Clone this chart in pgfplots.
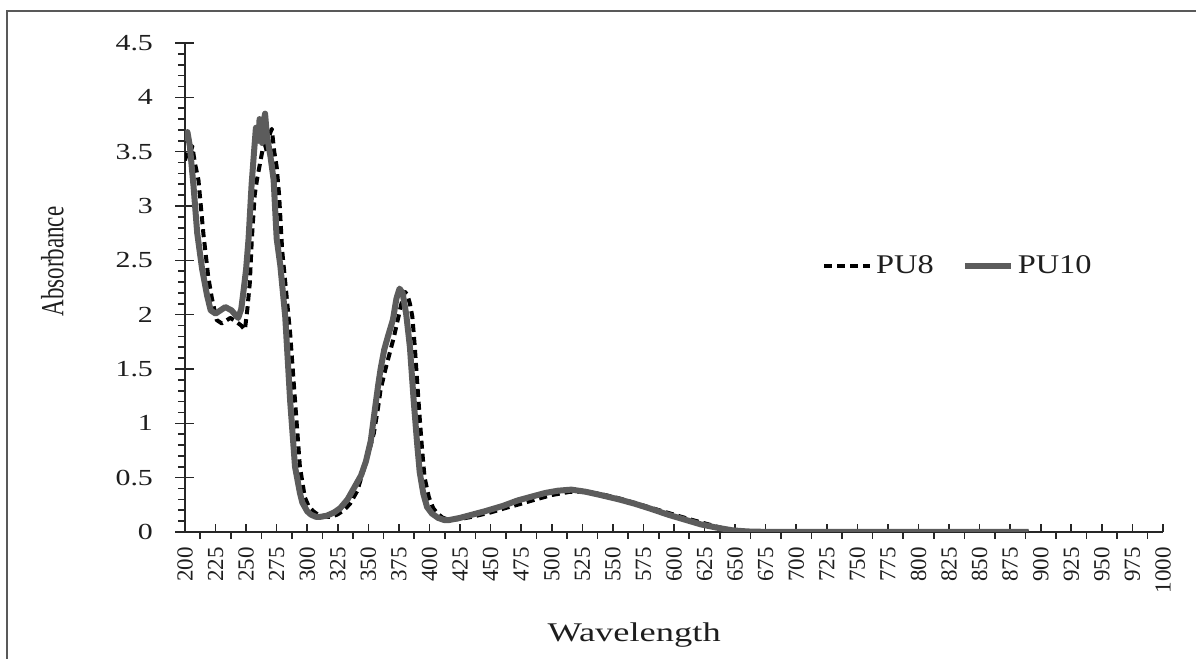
\documentclass[border=0pt]{standalone}
\usepackage{pgfplots}
\pgfplotsset{compat=1.18}
\usepackage{fontspec}
\setmainfont{Liberation Serif}
\usepackage{graphicx}

\definecolor{pugray}{RGB}{92,92,92}
\definecolor{txt}{RGB}{30,30,30}

% PU8 (dashed) and PU10 (solid)
\pgfplotstableread{
x y
200 3.42
202 3.50
204 3.48
206 3.55
208 3.40
211 3.24
215 2.75
219 2.35
222 2.15
226 1.95
230 1.92
233 1.94
237 1.97
240 1.95
242.5 1.93
246 1.90
249 1.86
251 2.05
253 2.29
254.7 2.70
257 3.10
259 3.25
261.5 3.40
264 3.55
265.5 3.56
267 3.50
269 3.65
271 3.71
273 3.50
275 3.36
277 3.10
279.5 2.59
282 2.30
286 1.83
290 1.21
294 0.60
298 0.32
301 0.24
305 0.19
310 0.15
314 0.14
319 0.14
324.5 0.16
330 0.20
335 0.26
341 0.38
346 0.57
350 0.72
354.5 0.91
358 1.15
360 1.31
364 1.50
368 1.67
371 1.80
374 1.95
377 2.10
380 2.21
382 2.18
384 2.10
386 1.98
388 1.70
390 1.37
392 1.05
394 0.75
396 0.50
399.5 0.32
403 0.22
406.5 0.17
411 0.13
417 0.11
425 0.12
435 0.14
450 0.18
462 0.22
475 0.26
487 0.30
500 0.34
515 0.37
528 0.37
540 0.35
555 0.31
570 0.26
585 0.21
600 0.16
612 0.12
625 0.08
638 0.04
650 0.015
665 0.005
680 0
890 0
}\puEight

\pgfplotstableread{
x y
200 3.60
202 3.68
204 3.55
207 3.18
210 2.75
214 2.42
218 2.18
221 2.04
225 2.01
229 2.04
233 2.07
238 2.04
243.5 1.97
246 2.05
248 2.23
250 2.42
252 2.70
254.5 3.20
256.5 3.50
258 3.72
260 3.60
261 3.80
263 3.58
264.5 3.78
265.5 3.85
267 3.65
270 3.45
272.5 3.24
275 2.70
278 2.45
282 1.98
286 1.21
290 0.60
294 0.36
296 0.27
300 0.19
303 0.16
307 0.14
311 0.14
316 0.15
322 0.18
327 0.22
333 0.30
338 0.40
344 0.52
348 0.65
352 0.84
355 1.10
358 1.35
360 1.50
363 1.68
366 1.80
370 1.95
373 2.15
375.5 2.24
378 2.20
381 2.00
384 1.70
387 1.22
390 0.80
392 0.55
395 0.35
398 0.23
402 0.17
407 0.13
412 0.11
416 0.11
425 0.13
435 0.16
445 0.19
460 0.24
472 0.29
485 0.33
495 0.36
505 0.38
516 0.39
528 0.37
540 0.34
555 0.30
568 0.26
582 0.21
595 0.16
610 0.11
622 0.07
635 0.04
648 0.015
660 0.005
680 0
890 0
}\puTen

\begin{document}
\begin{tikzpicture}
\useasboundingbox (-92.5pt,-63.5pt) rectangle (505.5pt,266pt);
\draw[line width=1pt, gray!70!black] (-89pt,-80pt) rectangle (520pt,260.5pt);
\begin{axis}[
  scale only axis,
  width=489pt, height=244.5pt,
  xmin=200, xmax=1000, ymin=0, ymax=4.5,
  axis x line=bottom, axis y line=left,
  axis line style={-, line width=1pt, black!85},
  every tick/.style={black!85, line width=0.8pt},
  xtick={200,225,...,1000},
  minor xtick={212.5,237.5,...,987.5},
  ytick={0,0.5,...,4.5},
  minor ytick={0.1,0.2,0.3,0.4,0.6,0.7,0.8,0.9,1.1,1.2,1.3,1.4,1.6,1.7,1.8,1.9,2.1,2.2,2.3,2.4,2.6,2.7,2.8,2.9,3.1,3.2,3.3,3.4,3.6,3.7,3.8,3.9,4.1,4.2,4.3,4.4},
  xtick align=inside, ytick align=center,
  major tick length=4pt, minor tick length=3.5pt,
  minor x tick style={yshift=-3.5pt},
  minor y tick style={xshift=-1.75pt},
  extra y ticks={0,0.5,...,4.5},
  extra y tick labels={},
  extra y tick style={major tick length=9.5pt, tick align=center},
  /pgf/number format/assume math mode=true,
  /pgf/number format/1000 sep={},
  yticklabel={\scalebox{1.3}[1]{\pgfmathprintnumber{\tick}}},
  xticklabel={\pgfmathprintnumber{\tick}},
  tick label style={font=\fontsize{11.5}{12}\selectfont, text=txt},
  xticklabel style={rotate=90, anchor=east},
  xticklabel shift=4pt,
  yticklabel shift=10.5pt,
  xlabel={\scalebox{1.35}[1]{Wavelength}},
  ylabel={\scalebox{1}[1.4]{Absorbance}},
  label style={text=txt},
  xlabel style={font=\fontsize{13.5}{14}\selectfont, at={(axis description cs:0.555,-0.224)}, anchor=base east},
  ylabel style={font=\fontsize{11.5}{12}\selectfont, at={(axis description cs:-0.1355,0.553)}, anchor=center, rotate=0},
  legend style={draw=none, fill=none, at={(axis description cs:0.645,0.544)}, anchor=west,
    font=\fontsize{13.5}{15}\selectfont, text=txt, legend columns=2,
    /tikz/every even column/.append style={column sep=12pt}},
  legend image code/.code={\draw[#1] (0pt,0pt) -- (23pt,0pt);},
  legend cell align=left,
]
\addplot[black, line width=2pt, dash pattern=on 4pt off 2.5pt, line join=round] table[x=x,y=y] {\puEight};
\addlegendentry{\scalebox{1.2}[1]{PU8}}
\addplot[pugray, line width=3pt, line join=round] table[x=x,y=y] {\puTen};
\addlegendentry{\scalebox{1.2}[1]{PU10}}
\end{axis}
\end{tikzpicture}
\end{document}
